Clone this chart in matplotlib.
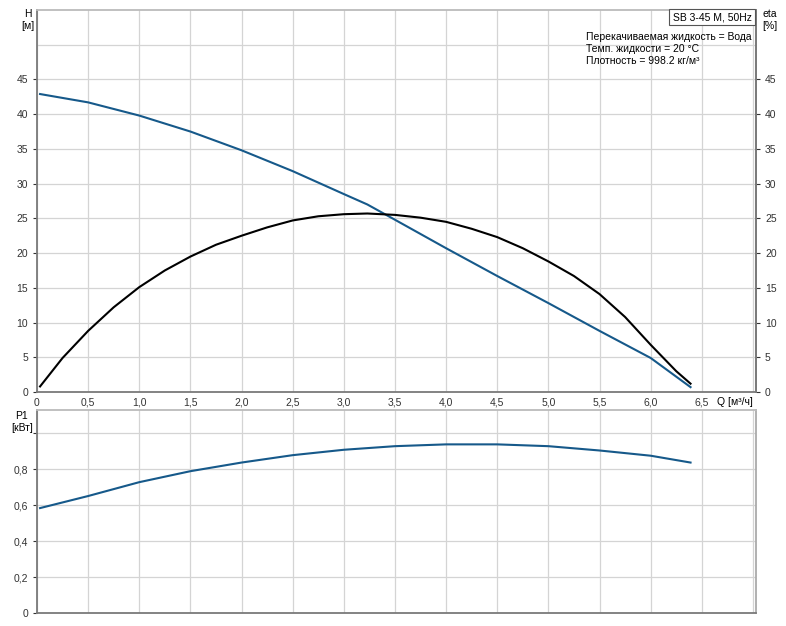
import matplotlib
matplotlib.use("Agg")
import matplotlib.pyplot as plt
import numpy as np

plt.rcParams['font.family'] = ['Liberation Sans', 'DejaVu Sans']
plt.rcParams['font.size'] = 7.5

# pump curve data
q_h = [0.03, 0.5, 1.0, 1.5, 2.0, 2.5, 3.0, 3.23, 3.5, 4.0, 4.5, 5.0, 5.5, 6.0, 6.39]
head = [42.9, 41.7, 39.8, 37.5, 34.8, 31.8, 28.5, 27.0, 24.8, 20.7, 16.7, 12.8, 8.8, 4.9, 0.7]

q_eta = [0.03, 0.25, 0.5, 0.75, 1.0, 1.25, 1.5, 1.75, 2.0, 2.25, 2.5, 2.75, 3.0,
         3.23, 3.5, 3.75, 4.0, 4.25, 4.5, 4.75, 5.0, 5.25, 5.5, 5.75, 6.0, 6.25, 6.39]
eta = [0.8, 4.9, 8.8, 12.2, 15.1, 17.5, 19.5, 21.2, 22.5, 23.7, 24.7, 25.3, 25.6,
       25.7, 25.5, 25.1, 24.5, 23.5, 22.3, 20.7, 18.8, 16.7, 14.1, 10.8, 6.8, 3.0, 1.2]

q_p = [0.03, 0.5, 1.0, 1.5, 2.0, 2.5, 3.0, 3.5, 4.0, 4.5, 5.0, 5.5, 6.0, 6.39]
power = [0.583, 0.650, 0.727, 0.788, 0.836, 0.877, 0.907, 0.927, 0.937, 0.937,
         0.927, 0.903, 0.874, 0.836]

q_ticks = [0, 0.5, 1.0, 1.5, 2.0, 2.5, 3.0, 3.5, 4.0, 4.5, 5.0, 5.5, 6.0, 6.5, 7.0]
h_ticks = [0, 5, 10, 15, 20, 25, 30, 35, 40, 45]
p_ticks = [0, 0.2, 0.4, 0.6, 0.8, 1.0]

info_lines = ["Перекачиваемая жидкость = Вода",
              "Темп. жидкости = 20 °C",
              "Плотность = 998.2 кг/м³"]
title = "SB 3-45 M, 50Hz"

BLUE = '#16598a'
GRID = '#d4d4d4'
SPINE = '#7a7a7a'
W, H = 786, 626


def comma(v, pos=None):
    if v == 0:
        return "0"
    return ("%.1f" % v).replace(".", ",")


def style(ax):
    for s in ax.spines.values():
        s.set_color(SPINE)
        s.set_linewidth(1.3)
    ax.grid(True, which='both', color=GRID, linewidth=0.9)
    ax.set_axisbelow(True)
    ax.tick_params(colors='#333333', length=3, width=0.8, labelsize=7.5)


fig = plt.figure(figsize=(W / 100, H / 100), dpi=100)
ax1 = fig.add_axes([37 / W, 1 - 392 / H, (756 - 37) / W, (392 - 10) / H])
ax2 = fig.add_axes([37 / W, 1 - 613 / H, (756 - 37) / W, (613 - 410) / H])

############ H and eta ############
ax1.plot(q_h, head, color=BLUE, lw=1.5)
ax1.plot(q_eta, eta, color='black', lw=1.5)
ax1.set_xlim(0, 7.03)
ax1.set_ylim(0, 55)
ax1.set_xticks(q_ticks)
ax1.set_xticklabels([comma(v) for v in q_ticks[:-1]] + [""])
ax1.set_yticks(h_ticks)
ax1.set_yticks([50], minor=True)
style(ax1)
ax1.tick_params(axis='x', length=0, pad=4)
ax1.tick_params(axis='y', which='minor', length=0)
ax1.spines['top'].set_color('#bbbbbb')

ax1r = ax1.twinx()
ax1r.set_ylim(0, 55)
ax1r.set_yticks(h_ticks)
ax1r.tick_params(colors='#333333', length=3, width=0.8, labelsize=7.5)
for s in ax1r.spines.values():
    s.set_visible(False)
ax1r.spines['right'].set_visible(True)
ax1r.spines['right'].set_color(SPINE)
ax1r.spines['right'].set_linewidth(1.3)

############ P1 ############
ax2.plot(q_p, power, color=BLUE, lw=1.5)
ax2.set_xlim(0, 7.03)
ax2.set_ylim(0, 1.128)
ax2.set_xticks(q_ticks)
ax2.set_xticklabels([])
ax2.set_yticks(p_ticks)
ax2.set_yticklabels([comma(v) for v in p_ticks[:-1]] + [""])
style(ax2)
ax2.tick_params(axis='x', length=0)
ax2.spines['top'].set_color('#bbbbbb')
ax2.spines['right'].set_color('#aaaaaa')


############ texts ############
def ftext(x, y, s, **kw):
    fig.text(x / W, 1 - y / H, s, **kw)


ftext(28, 20, "H\n[м]", ha='center', va='center', fontsize=7.5, linespacing=1.2)
ftext(770, 20, "eta\n[%]", ha='center', va='center', fontsize=7.5, linespacing=1.2)
ftext(22, 422, "P1\n[кВт]", ha='center', va='center', fontsize=7.5, linespacing=1.2)
ftext(717, 402, "Q [м³/ч]", ha='left', va='center', fontsize=7.5)
ftext(586, 49, "\n".join(info_lines), ha='left', va='center', fontsize=7.5,
      linespacing=1.25)
ftext(712, 17, title, ha='center', va='center', fontsize=7.5,
      bbox=dict(boxstyle='square,pad=0.3', fc='white', ec='#555555', lw=0.8))

fig.savefig("out.png", dpi=100)
